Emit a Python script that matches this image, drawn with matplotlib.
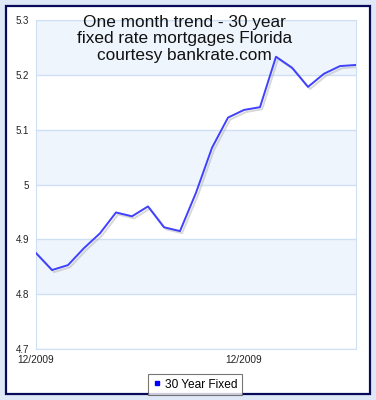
import matplotlib
matplotlib.use("Agg")
import matplotlib.pyplot as plt
import matplotlib.patheffects as pe
from matplotlib.patches import Rectangle
from matplotlib.lines import Line2D

# 30 year fixed rate, Florida, one month of daily values
rates = [4.875, 4.844, 4.853, 4.884, 4.911, 4.949, 4.942, 4.960, 4.922, 4.915,
         4.985, 5.067, 5.122, 5.136, 5.141, 5.233, 5.213, 5.178, 5.202, 5.216, 5.218]
days = list(range(len(rates)))
xtick_pos = [0, 13]
xtick_labels = ["12/2009", "12/2009"]
yticks = [4.7, 4.8, 4.9, 5.0, 5.1, 5.2, 5.3]
ytick_labels = ["4.7", "4.8", "4.9", "5", "5.1", "5.2", "5.3"]
title = "One month trend - 30 year\nfixed rate mortgages Florida\ncourtesy bankrate.com"

plt.rcParams['font.family'] = ['Liberation Sans', 'DejaVu Sans']

W, H = 376, 400
fig = plt.figure(figsize=(W / 100, H / 100), dpi=100)
fig.patch.set_facecolor("#dfe8f6")

# white panel with navy frame, behind the axes
fig.patches.append(Rectangle((6 / W, 6 / H), 364 / W, 388 / H, transform=fig.transFigure,
                             facecolor="white", edgecolor="#0a0a5a", linewidth=1.6, zorder=-5))

ax = fig.add_axes([36 / W, 51 / H, 320 / W, 329 / H])
ax.set_facecolor("white")
ax.set_xlim(0, len(rates) - 1)
ax.set_ylim(4.7, 5.3)

# alternating bands
for lo in [4.8, 5.0, 5.2]:
    ax.axhspan(lo, lo + 0.1, color="#eef5fd", zorder=0, lw=0)
for y in yticks:
    ax.axhline(y, color="#cfe0f5", lw=1, zorder=1)

ax.plot(days, rates, color="#4040ff", lw=1.4, zorder=3,
        path_effects=[pe.SimpleLineShadow(offset=(1.5, -1.5), shadow_color="#aaaaaa", alpha=0.45),
                      pe.Normal()])

ax.set_xticks(xtick_pos)
ax.set_xticklabels(xtick_labels)
ax.set_yticks(yticks)
ax.set_yticklabels(ytick_labels)
ax.tick_params(length=0, labelsize=7, colors="#222222")
ax.tick_params(axis="x", pad=4, labelsize=7.3)
ax.tick_params(axis="y", pad=5)
for s in ax.spines.values():
    s.set_color("#cfe0f5")

fig.text(184.5 / W, 1 - 15 / H, title, ha="center", va="top",
         fontsize=12.4, color="#111111", linespacing=1.12, zorder=4)

handle = Line2D([], [], color="#0000ff", marker="s", markersize=3.5, linestyle="none")
leg = fig.legend([handle], ["30 Year Fixed"], loc="center", bbox_to_anchor=(195 / W, 15.5 / H),
                 frameon=True, fancybox=False, fontsize=8.6, handletextpad=0.25,
                 borderpad=0.35, handlelength=0.8, shadow=False)
leg.get_frame().set_edgecolor("#555555")
leg.get_frame().set_linewidth(0.8)

fig.savefig("out.png", dpi=100, facecolor=fig.get_facecolor())
